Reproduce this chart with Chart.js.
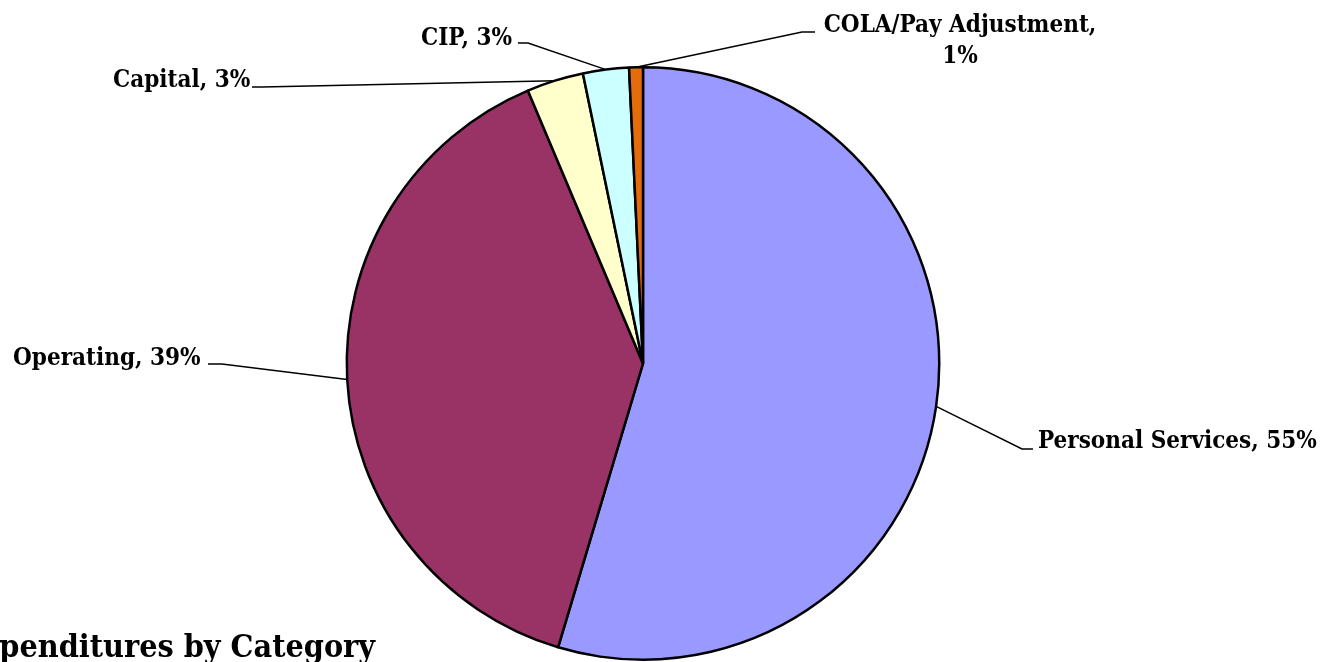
<!DOCTYPE html>
<html>
<head>
<meta charset="utf-8">
<script src="https://cdn.jsdelivr.net/npm/chart.js@4/dist/chart.umd.min.js"></script>
<style>
  html, body { margin: 0; padding: 0; background: #fff; overflow: hidden; }
  #caixa { width: 1331px; height: 662px; position: relative; }
</style>
</head>
<body>
<div id="caixa"><canvas id="graf"></canvas></div>
<script>
// dados
const categorias = ["Personal Services", "Operating", "Capital", "CIP", "COLA/Pay Adjustment"]
const valores = [54.6, 39.0, 3.1, 2.5, 0.75]
const percentuais = ["55%", "39%", "3%", "3%", "1%"]
const cores = ['#9999FF', '#993366', '#FFFFCC', '#CCFFFF', '#E46C0A']
const titulo = "Expenditures by Category"

const fonte = '"DejaVu Serif Condensed", "DejaVu Serif", serif'

// onde cada rótulo fica e onde a linha guia dobra
const rotulos = [
  { x: 1038, y: 448, align: 'left', dobra: [1022, 449], fim: [1033, 449] },
  { x: 13, y: 365, align: 'left', dobra: [222, 364], fim: [208, 364] },
  { x: 113, y: 87, align: 'left', dobra: [262, 87], fim: [252, 87] },
  { x: 421, y: 45, align: 'left', dobra: [528, 43], fim: [518, 43] },
  { x: 960, y: 32, align: 'center', dobra: [802, 32], fim: [815, 32], quebra: true }
]

const rotulosPlugin = {
  id: 'rotulos',
  afterDraw(chart) {
    const ctx = chart.ctx
    const arcos = chart.getDatasetMeta(0).data
    ctx.save()
    // linhas guia saindo do meio de cada fatia
    ctx.strokeStyle = '#000'
    ctx.lineWidth = 1.5
    arcos.forEach((arco, i) => {
      const p = arco.getProps(['x', 'y', 'startAngle', 'endAngle', 'outerRadius'], true)
      const meio = (p.startAngle + p.endAngle) / 2
      const r = rotulos[i]
      ctx.beginPath()
      ctx.moveTo(p.x + Math.cos(meio) * p.outerRadius, p.y + Math.sin(meio) * p.outerRadius)
      ctx.lineTo(r.dobra[0], r.dobra[1])
      ctx.lineTo(r.fim[0], r.fim[1])
      ctx.stroke()
    })
    // textos: "categoria, xx%"
    ctx.fillStyle = '#000'
    ctx.font = 'bold 24px ' + fonte
    ctx.textBaseline = 'alphabetic'
    rotulos.forEach((r, i) => {
      ctx.textAlign = r.align
      const linhas = r.quebra
        ? [chart.data.labels[i] + ",", percentuais[i]]
        : [chart.data.labels[i] + ", " + percentuais[i]]
      linhas.forEach((t, k) => ctx.fillText(t, r.x, r.y + k * 31))
    })
    // título cortado no canto de baixo
    ctx.font = 'bold 32px ' + fonte
    ctx.textAlign = 'right'
    ctx.fillText(titulo, 375, 657)
    ctx.restore()
  }
}

const graf = document.getElementById("graf")
const myChart = new Chart(graf, {
  type: 'pie',
  data: {
    labels: categorias,
    datasets: [{
      data: valores,
      backgroundColor: cores,
      borderColor: '#000',
      borderWidth: 2.5
    }]
  },
  options: {
    responsive: true,
    maintainAspectRatio: false,
    animation: false,
    layout: { padding: { top: 66, bottom: 1, left: 0, right: 45 } },
    plugins: {
      legend: { display: false },
      tooltip: { enabled: false }
    }
  },
  plugins: [rotulosPlugin]
})
</script>
</body>
</html>
